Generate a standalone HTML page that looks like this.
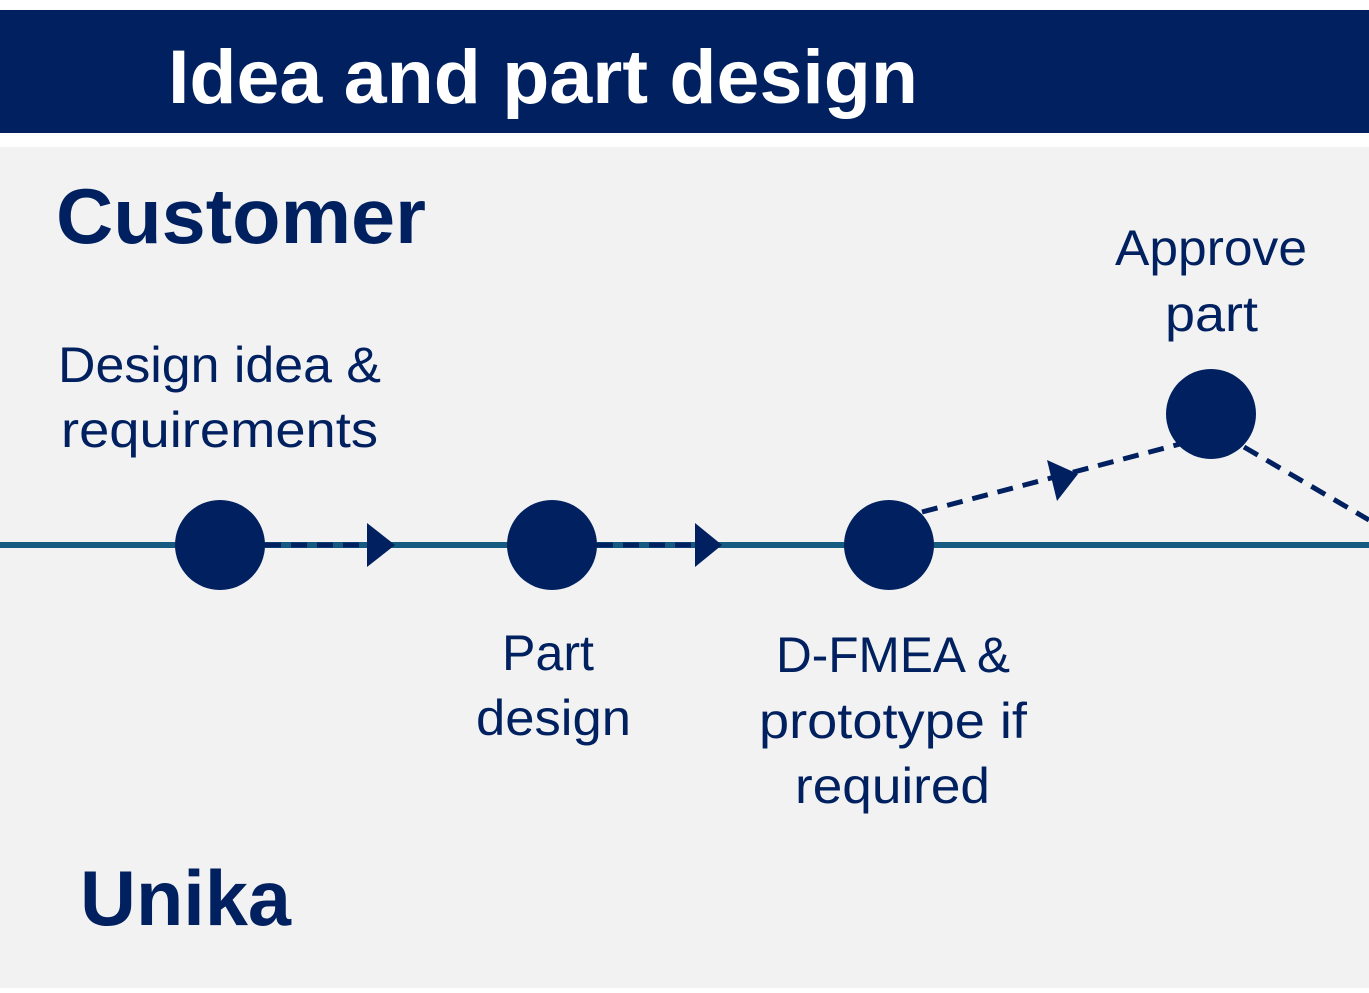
<!DOCTYPE html>
<html><head><meta charset="utf-8"><style>html,body{margin:0;padding:0;background:#fff}svg{display:block}</style></head>
<body>
<svg width="1369" height="993" viewBox="0 0 1369 993" xmlns="http://www.w3.org/2000/svg" font-family="Liberation Sans, sans-serif">
<rect x="0" y="0" width="1369" height="993" fill="#fff"/>
<rect x="0" y="10" width="1369" height="123" fill="#00205f"/>
<rect x="0" y="147" width="1369" height="841" fill="#f2f2f2"/>
<text x="168" y="103" font-size="76" font-weight="bold" fill="#fff" textLength="750" lengthAdjust="spacingAndGlyphs">Idea and part design</text>
<text x="56" y="243" font-size="78" font-weight="bold" fill="#00205f" textLength="370" lengthAdjust="spacingAndGlyphs">Customer</text>
<text x="80" y="925" font-size="78" font-weight="bold" fill="#00205f" textLength="211" lengthAdjust="spacingAndGlyphs">Unika</text>
<line x1="0" y1="545" x2="1369" y2="545" stroke="#155a80" stroke-width="6"/>
<g stroke="#00205f" stroke-width="5" stroke-dasharray="16,10" fill="none">
<line x1="265" y1="545" x2="368" y2="545"/>
<line x1="597" y1="545" x2="696" y2="545"/>
<line x1="922" y1="512" x2="1180" y2="444"/>
<line x1="1244" y1="447" x2="1369" y2="520"/>
</g>
<g fill="#00205f">
<polygon points="367,523 395,545 367,567"/>
<polygon points="695,523 722,545 695,567"/>
<polygon points="1047,460 1078,474 1057,501"/>
<circle cx="220" cy="545" r="45"/>
<circle cx="552" cy="545" r="45"/>
<circle cx="889" cy="545" r="45"/>
<circle cx="1211" cy="414" r="45"/>
</g>
<g font-size="50" fill="#00205f" lengthAdjust="spacingAndGlyphs">
<text x="58" y="382" textLength="323" lengthAdjust="spacingAndGlyphs">Design idea &amp;</text>
<text x="61" y="447" textLength="317" lengthAdjust="spacingAndGlyphs">requirements</text>
<text x="1115" y="265" textLength="192" lengthAdjust="spacingAndGlyphs">Approve</text>
<text x="1165" y="331" textLength="93" lengthAdjust="spacingAndGlyphs">part</text>
<text x="502" y="670" textLength="92" lengthAdjust="spacingAndGlyphs">Part</text>
<text x="476" y="735" textLength="155" lengthAdjust="spacingAndGlyphs">design</text>
<text x="776" y="672" textLength="234" lengthAdjust="spacingAndGlyphs">D-FMEA &amp;</text>
<text x="759" y="738" textLength="268" lengthAdjust="spacingAndGlyphs">prototype if</text>
<text x="795" y="803" textLength="195" lengthAdjust="spacingAndGlyphs">required</text>
</g>
</svg>
</body></html>
